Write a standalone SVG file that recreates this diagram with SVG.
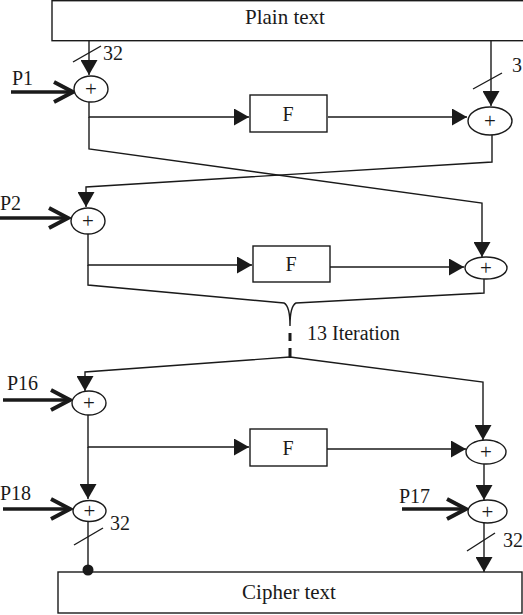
<svg xmlns="http://www.w3.org/2000/svg" width="523" height="615" viewBox="0 0 523 615">
<style>
.ln{fill:none;stroke:#1a1a1a;stroke-width:1.4}
.box{fill:#fff;stroke:#1a1a1a;stroke-width:1.4}
.xr{fill:#fff;stroke:#1a1a1a;stroke-width:1.4}
.pk{fill:none;stroke:#1a1a1a;stroke-width:3.5}
.ch{fill:none;stroke:#1a1a1a;stroke-width:4;stroke-linejoin:miter}
text{font-family:"Liberation Serif","Times New Roman",serif;fill:#1a1a1a;font-size:20px}
.c{text-anchor:middle}
.pl{font-size:21px}
</style>
<defs>
<marker id="ah" viewBox="0 0 15 17" refX="15" refY="8.5" markerWidth="15" markerHeight="17" orient="auto" markerUnits="userSpaceOnUse"><path d="M0,0 L15,8.5 L0,17 z" fill="#1a1a1a"/></marker>
</defs>

<g id="plaintext"><rect class="box" x="52" y="0.7" width="480" height="40"/><text class="c" x="285" y="24" style="font-size:21px">Plain text</text></g>
<g id="ciphertext"><rect class="box" x="58" y="572" width="464" height="41"/><text class="c" x="289" y="599" style="font-size:21px">Cipher text</text></g>

<g id="F1"><rect class="box" x="250" y="95" width="77" height="37"/><text class="c" x="288" y="121">F</text></g>
<g id="F2"><rect class="box" x="253" y="246" width="77" height="36"/><text class="c" x="291" y="271">F</text></g>
<g id="F3"><rect class="box" x="250" y="429" width="77" height="37"/><text class="c" x="288" y="455">F</text></g>

<g id="connectors">
<path class="ln" d="M89,41 V75" marker-end="url(#ah)"/>
<path class="ln" d="M73,62 L101,46"/>
<path class="ln" d="M491,41 V106" marker-end="url(#ah)"/>
<path class="ln" d="M473,89 L502,73"/>
<path class="ln" d="M89,102 V117 H249" marker-end="url(#ah)"/>
<path class="ln" d="M89,117 V149 L482,203 V257" marker-end="url(#ah)"/>
<path class="ln" d="M328,117 H467" marker-end="url(#ah)"/>
<path class="ln" d="M492,135 V162 L86,187 V207" marker-end="url(#ah)"/>
<path class="ln" d="M88,234 V265 H252" marker-end="url(#ah)"/>
<path class="ln" d="M330,267 H464" marker-end="url(#ah)"/>
<path class="ln" d="M88,265 V285 L284,303 C288,305 290,312 290,326 C290,312 292,305 296,303 L484,293 V279"/>
<path d="M290,333 V341 M290,348 V358" fill="none" stroke="#1a1a1a" stroke-width="3"/>
<path class="ln" d="M290,357 L85,372 V391" marker-end="url(#ah)"/>
<path class="ln" d="M290,357 L483,382 V440" marker-end="url(#ah)"/>
<path class="ln" d="M88,415 V447 H249" marker-end="url(#ah)"/>
<path class="ln" d="M88,447 V499" marker-end="url(#ah)"/>
<path class="ln" d="M327,449 H466" marker-end="url(#ah)"/>
<path class="ln" d="M484,464 V500" marker-end="url(#ah)"/>
<path class="ln" d="M88,522 V570"/>
<circle cx="88" cy="570" r="5.5" fill="#1a1a1a"/>
<path class="ln" d="M74,545 L103,528"/>
<path class="ln" d="M484,523 V572" marker-end="url(#ah)"/>
<path class="ln" d="M467,551 L495,533"/>
<path class="pk" d="M11,92 H72"/><polyline class="ch" points="54,82 73,92 54,102"/>
<path class="pk" d="M0,218 H68"/><polyline class="ch" points="49,208 68,218 49,228"/>
<path class="pk" d="M3,400 H69"/><polyline class="ch" points="51,390 70,400 51,410"/>
<path class="pk" d="M3,509 H70"/><polyline class="ch" points="51,499 70,509 51,519"/>
<path class="pk" d="M402,509 H465"/><polyline class="ch" points="447,499 466,509 447,519"/>
</g>

<g id="x1"><ellipse class="xr" cx="91" cy="89" rx="17" ry="13"/><text class="c pl" x="91" y="96">+</text></g>
<g id="x2"><ellipse class="xr" cx="490" cy="121" rx="22" ry="14"/><text class="c pl" x="490" y="128">+</text></g>
<g id="x3"><ellipse class="xr" cx="88" cy="221" rx="17" ry="13"/><text class="c pl" x="88" y="228">+</text></g>
<g id="x4"><ellipse class="xr" cx="486" cy="268" rx="21" ry="11"/><text class="c pl" x="486" y="275">+</text></g>
<g id="x5"><ellipse class="xr" cx="89" cy="403" rx="17" ry="12"/><text class="c pl" x="89" y="410">+</text></g>
<g id="x6"><ellipse class="xr" cx="486" cy="452" rx="20" ry="12"/><text class="c pl" x="486" y="459">+</text></g>
<g id="x7"><ellipse class="xr" cx="89.5" cy="511" rx="16.5" ry="10.5"/><text class="c pl" x="89.5" y="518">+</text></g>
<g id="x8"><ellipse class="xr" cx="487.5" cy="511.5" rx="19.5" ry="11.5"/><text class="c pl" x="487.5" y="519">+</text></g>

<g id="labels">
<text x="103" y="60">32</text>
<text x="512" y="72">3</text>
<text x="12" y="85">P1</text>
<text x="0" y="210">P2</text>
<text x="307" y="340">13 Iteration</text>
<text x="7" y="390">P16</text>
<text x="0" y="500">P18</text>
<text x="110" y="530">32</text>
<text x="399" y="503">P17</text>
<text x="503" y="547">32</text>
</g>
</svg>
